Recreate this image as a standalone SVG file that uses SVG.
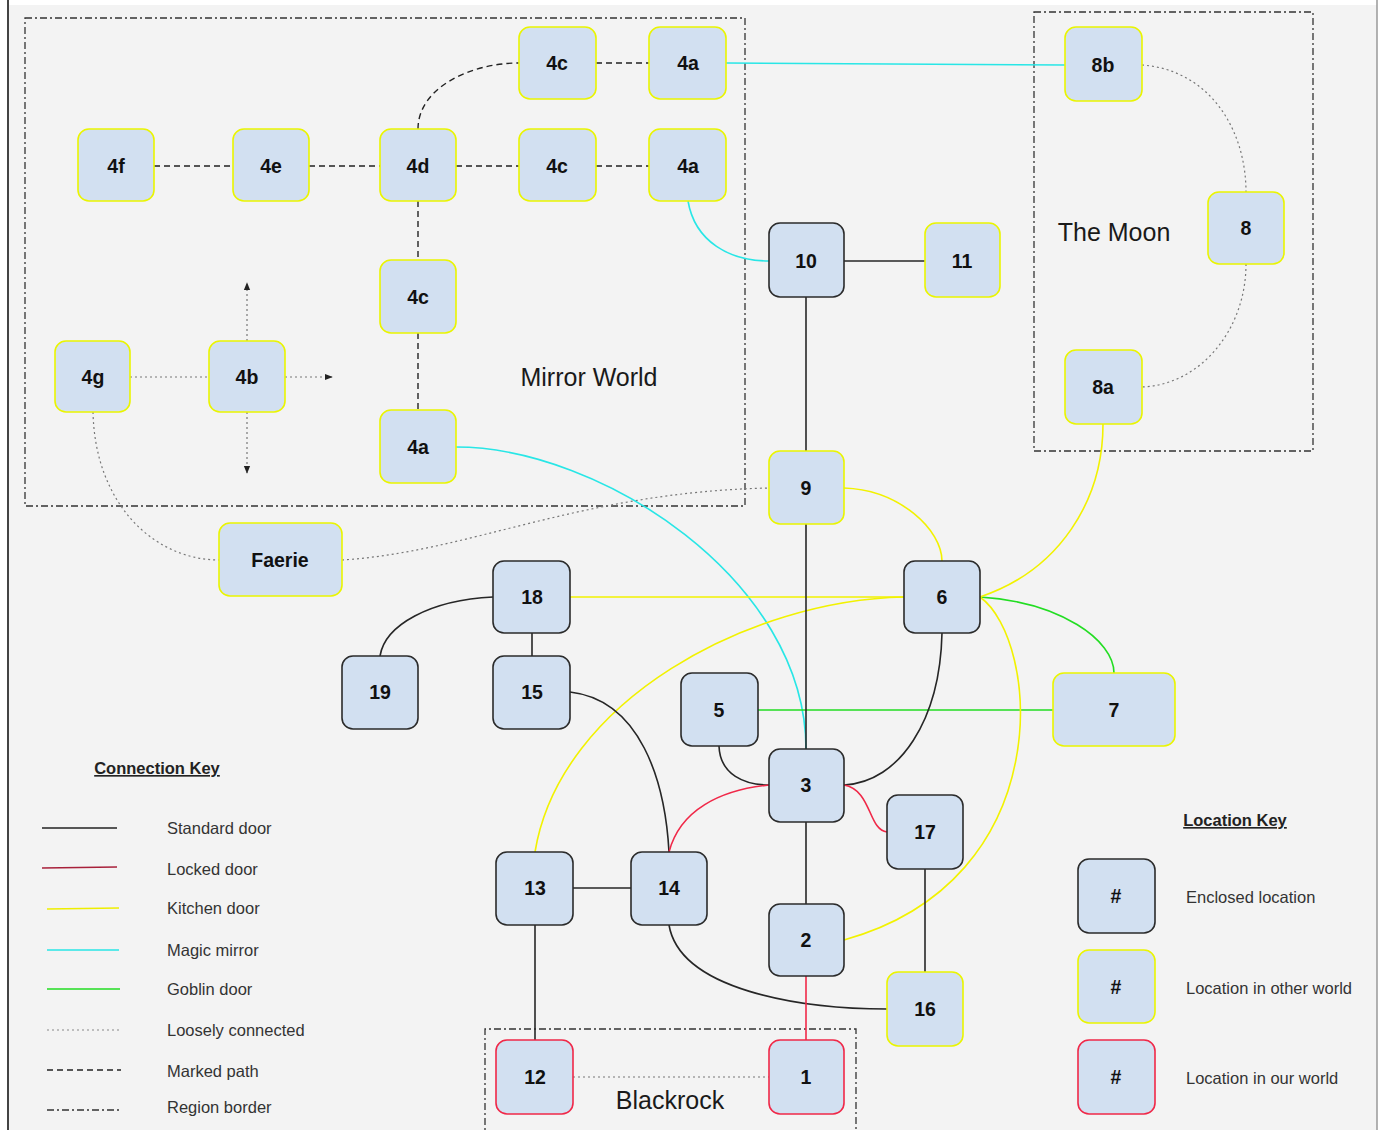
<svg xmlns="http://www.w3.org/2000/svg" width="1382" height="1130" viewBox="0 0 1382 1130">
<defs>
<style>
.bg{fill:#f3f3f3}
.node rect{fill:#d2e0f1;stroke-width:1.6}
.enc rect{stroke:#2b2b2b}
.oth rect{stroke:#eaf500}
.our rect{stroke:#f02848}
.node text{font-family:"Liberation Sans",Arial,sans-serif;font-weight:bold;font-size:19.5px;fill:#111;text-anchor:middle;dominant-baseline:central}
.region{fill:none;stroke:#333;stroke-width:1.3;stroke-dasharray:7 3 2 3}
.rlabel{font-family:"Liberation Sans",Arial,sans-serif;font-size:25px;fill:#1a1a1a;text-anchor:middle}
.c{fill:none;stroke-width:1.6}
.std{stroke:#262626}
.lock{stroke:#f02848}
.kit{stroke:#f2f200}
.mag{stroke:#28e6e6}
.gob{stroke:#22dd22}
.loose{stroke:#777;stroke-width:1.2;stroke-dasharray:2 3}
.mark{stroke:#222;stroke-width:1.4;stroke-dasharray:6 4}
.key{font-family:"Liberation Sans",Arial,sans-serif;font-size:16.5px;fill:#333}
.keyh{font-family:"Liberation Sans",Arial,sans-serif;font-size:16.5px;font-weight:bold;fill:#222;text-decoration:underline}
</style>
<marker id="arr" viewBox="0 0 10 10" refX="9" refY="5" markerWidth="8" markerHeight="8" orient="auto" markerUnits="userSpaceOnUse">
<path d="M0,1 L10,5 L0,9 z" fill="#222"/>
</marker>
</defs>
<rect width="1382" height="1130" fill="#ffffff"/>
<rect class="bg" x="8" y="5" width="1369" height="1125"/>
<line x1="8" y1="0" x2="8" y2="1130" stroke="#444" stroke-width="2"/>
<line x1="1377" y1="0" x2="1377" y2="1130" stroke="#999" stroke-width="1.5"/>

<g id="regions">
<rect class="region" x="25" y="18" width="720" height="488"/>
<rect class="region" x="1034" y="12" width="279" height="439"/>
<path class="region" d="M485,1140 L485,1029 L856,1029 L856,1140"/>
<text class="rlabel" x="589" y="386">Mirror World</text>
<text class="rlabel" x="1114" y="241">The Moon</text>
<text class="rlabel" x="670" y="1109">Blackrock</text>
</g>

<g id="connectors">
<!-- marked path -->
<path class="c mark" d="M154,166 L233,166"/>
<path class="c mark" d="M309,166 L380,166"/>
<path class="c mark" d="M456,166 L519,166"/>
<path class="c mark" d="M596,166 L649,166"/>
<path class="c mark" d="M418,129 C418,88 470,63 519,63"/>
<path class="c mark" d="M596,63 L649,63"/>
<path class="c mark" d="M418,201 L418,260"/>
<path class="c mark" d="M418,333 L418,410"/>
<!-- loosely connected -->
<path class="c loose" d="M130,377 L209,377"/>
<path class="c loose" d="M285,377 L332,377" marker-end="url(#arr)"/>
<path class="c loose" d="M247,341 L247,283" marker-end="url(#arr)"/>
<path class="c loose" d="M247,412 L247,473" marker-end="url(#arr)"/>
<path class="c loose" d="M93,412 C95,505 155,560 219,560"/>
<path class="c loose" d="M342,560 C470,552 580,492 769,488"/>
<path class="c loose" d="M1142,65 C1210,70 1246,130 1246,192"/>
<path class="c loose" d="M1246,264 C1246,330 1200,385 1142,387"/>
<path class="c loose" d="M573,1077 L769,1077"/>
<!-- magic mirror -->
<path class="c mag" d="M726,63 L1065,65"/>
<path class="c mag" d="M688,201 C695,242 730,261 769,261"/>
<path class="c mag" d="M456,447 C600,447 806,580 806,749"/>
<!-- goblin door -->
<path class="c gob" d="M758,710 L1053,710"/>
<path class="c gob" d="M980,597 C1060,602 1114,640 1114,673"/>
<!-- kitchen door -->
<path class="c kit" d="M844,488 C900,490 942,530 942,561"/>
<path class="c kit" d="M570,597 L904,597"/>
<path class="c kit" d="M535,852 C560,700 750,600 904,597"/>
<path class="c kit" d="M980,597 C1040,640 1060,880 844,940"/>
<path class="c kit" d="M980,597 C1060,570 1103,500 1103,424"/>
<!-- standard door -->
<path class="c std" d="M844,261 L925,261"/>
<path class="c std" d="M806,297 L806,451"/>
<path class="c std" d="M806,524 L806,749"/>
<path class="c std" d="M806,822 L806,904"/>
<path class="c std" d="M493,597 C430,600 385,625 380,656"/>
<path class="c std" d="M532,633 L532,656"/>
<path class="c std" d="M570,692 C640,700 665,780 669,852"/>
<path class="c std" d="M719,746 C720,775 745,785 769,785"/>
<path class="c std" d="M942,633 C940,720 900,782 844,785"/>
<path class="c std" d="M573,888 L631,888"/>
<path class="c std" d="M535,925 L535,1040"/>
<path class="c std" d="M925,869 L925,972"/>
<path class="c std" d="M669,925 C680,990 800,1009 887,1009"/>
<!-- locked door -->
<path class="c lock" d="M769,785 C720,790 680,810 669,852"/>
<path class="c lock" d="M844,785 C872,790 868,830 887,832"/>
<path class="c lock" d="M806,976 L806,1040"/>
</g>

<g id="n4c1" class="node oth"><rect x="519" y="27" width="77" height="72" rx="11"/><text x="557" y="63">4c</text></g>
<g id="n4a1" class="node oth"><rect x="649" y="27" width="77" height="72" rx="11"/><text x="688" y="63">4a</text></g>
<g id="n4f" class="node oth"><rect x="78" y="129" width="76" height="72" rx="11"/><text x="116" y="166">4f</text></g>
<g id="n4e" class="node oth"><rect x="233" y="129" width="76" height="72" rx="11"/><text x="271" y="166">4e</text></g>
<g id="n4d" class="node oth"><rect x="380" y="129" width="76" height="72" rx="11"/><text x="418" y="166">4d</text></g>
<g id="n4c2" class="node oth"><rect x="519" y="129" width="77" height="72" rx="11"/><text x="557" y="166">4c</text></g>
<g id="n4a2" class="node oth"><rect x="649" y="129" width="77" height="72" rx="11"/><text x="688" y="166">4a</text></g>
<g id="n4c3" class="node oth"><rect x="380" y="260" width="76" height="73" rx="11"/><text x="418" y="297">4c</text></g>
<g id="n4g" class="node oth"><rect x="55" y="341" width="75" height="71" rx="11"/><text x="93" y="377">4g</text></g>
<g id="n4b" class="node oth"><rect x="209" y="341" width="76" height="71" rx="11"/><text x="247" y="377">4b</text></g>
<g id="n4a3" class="node oth"><rect x="380" y="410" width="76" height="73" rx="11"/><text x="418" y="447">4a</text></g>
<g id="n10" class="node enc"><rect x="769" y="223" width="75" height="74" rx="11"/><text x="806" y="261">10</text></g>
<g id="n11" class="node oth"><rect x="925" y="223" width="75" height="74" rx="11"/><text x="962" y="261">11</text></g>
<g id="n8b" class="node oth"><rect x="1065" y="27" width="77" height="74" rx="11"/><text x="1103" y="65">8b</text></g>
<g id="n8" class="node oth"><rect x="1208" y="192" width="76" height="72" rx="11"/><text x="1246" y="228">8</text></g>
<g id="n8a" class="node oth"><rect x="1065" y="350" width="77" height="74" rx="11"/><text x="1103" y="387">8a</text></g>
<g id="n9" class="node oth"><rect x="769" y="451" width="75" height="73" rx="11"/><text x="806" y="488">9</text></g>
<g id="nFaerie" class="node oth"><rect x="219" y="523" width="123" height="73" rx="11"/><text x="280" y="560">Faerie</text></g>
<g id="n18" class="node enc"><rect x="493" y="561" width="77" height="72" rx="11"/><text x="532" y="597">18</text></g>
<g id="n6" class="node enc"><rect x="904" y="561" width="76" height="72" rx="11"/><text x="942" y="597">6</text></g>
<g id="n19" class="node enc"><rect x="342" y="656" width="76" height="73" rx="11"/><text x="380" y="692">19</text></g>
<g id="n15" class="node enc"><rect x="493" y="656" width="77" height="73" rx="11"/><text x="532" y="692">15</text></g>
<g id="n5" class="node enc"><rect x="681" y="673" width="77" height="73" rx="11"/><text x="719" y="710">5</text></g>
<g id="n7" class="node oth"><rect x="1053" y="673" width="122" height="73" rx="11"/><text x="1114" y="710">7</text></g>
<g id="n3" class="node enc"><rect x="769" y="749" width="75" height="73" rx="11"/><text x="806" y="785">3</text></g>
<g id="n17" class="node enc"><rect x="887" y="795" width="76" height="74" rx="11"/><text x="925" y="832">17</text></g>
<g id="n13" class="node enc"><rect x="496" y="852" width="77" height="73" rx="11"/><text x="535" y="888">13</text></g>
<g id="n14" class="node enc"><rect x="631" y="852" width="76" height="73" rx="11"/><text x="669" y="888">14</text></g>
<g id="n2" class="node enc"><rect x="769" y="904" width="75" height="72" rx="11"/><text x="806" y="940">2</text></g>
<g id="n16" class="node oth"><rect x="887" y="972" width="76" height="74" rx="11"/><text x="925" y="1009">16</text></g>
<g id="n12" class="node our"><rect x="496" y="1040" width="77" height="74" rx="11"/><text x="535" y="1077">12</text></g>
<g id="n1" class="node our"><rect x="769" y="1040" width="75" height="74" rx="11"/><text x="806" y="1077">1</text></g>

<g id="connection-key">
<text class="keyh" x="157" y="774" text-anchor="middle">Connection Key</text>
<line x1="42" y1="828" x2="117" y2="828" stroke="#222" stroke-width="1.6"/>
<line x1="42" y1="868" x2="117" y2="867" stroke="#a8203a" stroke-width="1.6"/>
<line x1="47" y1="909" x2="119" y2="908" stroke="#eeee00" stroke-width="1.6"/>
<line x1="47" y1="950" x2="119" y2="950" stroke="#28e6e6" stroke-width="1.6"/>
<line x1="47" y1="989" x2="120" y2="989" stroke="#22dd22" stroke-width="1.6"/>
<line x1="47" y1="1030" x2="120" y2="1030" stroke="#888" stroke-width="1.2" stroke-dasharray="2 3"/>
<line x1="47" y1="1070" x2="121" y2="1070" stroke="#222" stroke-width="1.3" stroke-dasharray="6 4"/>
<line x1="47" y1="1110" x2="121" y2="1110" stroke="#333" stroke-width="1.3" stroke-dasharray="7 3 2 3"/>
<text class="key" x="167" y="834">Standard door</text>
<text class="key" x="167" y="875">Locked door</text>
<text class="key" x="167" y="914">Kitchen door</text>
<text class="key" x="167" y="956">Magic mirror</text>
<text class="key" x="167" y="995">Goblin door</text>
<text class="key" x="167" y="1036">Loosely connected</text>
<text class="key" x="167" y="1077">Marked path</text>
<text class="key" x="167" y="1113">Region border</text>
</g>

<g id="location-key">
<text class="keyh" x="1235" y="826" text-anchor="middle">Location Key</text>
<g id="key-enclosed" class="node enc"><rect x="1078" y="859" width="77" height="74" rx="11"/><text x="1116" y="896">#</text></g>
<g id="key-other" class="node oth"><rect x="1078" y="950" width="77" height="73" rx="11"/><text x="1116" y="987">#</text></g>
<g id="key-our" class="node our"><rect x="1078" y="1040" width="77" height="74" rx="11"/><text x="1116" y="1077">#</text></g>
<text class="key" x="1186" y="903">Enclosed location</text>
<text class="key" x="1186" y="994">Location in other world</text>
<text class="key" x="1186" y="1084">Location in our world</text>
</g>
</svg>
